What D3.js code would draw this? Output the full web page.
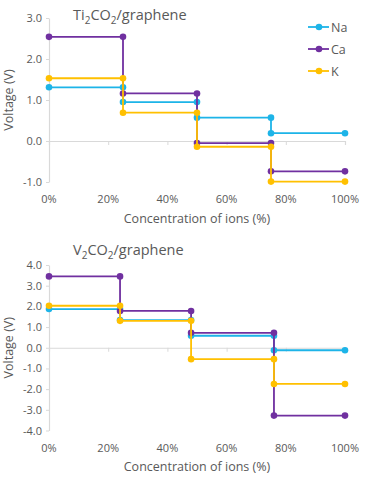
<!DOCTYPE html>
<html><head><meta charset="utf-8">
<script src="https://cdn.jsdelivr.net/npm/d3@7"></script>
<style>body{margin:0;background:#fff}svg{display:block}text{font-family:"Open Sans","Liberation Sans",sans-serif;fill:#595959}</style>
</head><body><svg id="c" width="365" height="477"></svg>
<script>
const series = ["Na", "Ca", "K"];
const colors = ["#1DB4E8", "#7030A0", "#FFC000"];
const xTicks = [0, 20, 40, 60, 80, 100];
const topSteps = [0, 25, 50, 75, 100];
const topNa = [1.31, 0.95, 0.57, 0.19];
const topCa = [2.54, 1.16, -0.05, -0.74];
const topK = [1.53, 0.69, -0.14, -0.99];
const topYTicks = [-1, 0, 1, 2, 3];
const botSteps = [0, 24, 48, 76, 100];
const botNa = [1.87, 1.34, 0.58, -0.12];
const botCa = [3.45, 1.78, 0.72, -3.28];
const botK = [2.03, 1.30, -0.55, -1.75];
const botYTicks = [-4, -3, -2, -1, 0, 1, 2, 3, 4];

const svg = d3.select("#c");

function panel(cfg) {
  const x = d3.scaleLinear().domain([0, 100]).range([49, 345]);
  const y = d3.scaleLinear().domain(cfg.yDomain).range(cfg.yRange);
  const g = svg.append("g");
  const xAxis = g.append("g").attr("transform", `translate(0,${y(0)})`)
    .call(d3.axisBottom(x).tickValues(xTicks).tickSize(4).tickFormat(""));
  xAxis.select(".domain").attr("stroke", "#d9d9d9").attr("stroke-width", 1.2);
  xAxis.selectAll(".tick line").attr("stroke", "#d9d9d9");
  g.append("g").selectAll("text").data(xTicks).join("text")
    .attr("x", d => x(d)).attr("y", cfg.yRange[0] + 21)
    .attr("text-anchor", "middle").attr("font-size", 11).text(d => d + "%");
  const yAxis = g.append("g").attr("transform", `translate(49,0)`)
    .call(d3.axisLeft(y).tickValues(cfg.yTicks).tickSize(3).tickSizeOuter(0).tickFormat(d3.format(".1f")));
  yAxis.select(".domain").attr("stroke", "#d9d9d9").attr("stroke-width", 1.2);
  yAxis.selectAll(".tick line").attr("stroke", "#d9d9d9");
  yAxis.selectAll(".tick text").attr("font-size", 11).attr("fill", "#595959")
    .attr("font-family", '"Open Sans","Liberation Sans",sans-serif').attr("x", -7)
    .text(d => d < 0 ? "-" + d3.format(".1f")(-d) : d3.format(".1f")(d));
  const t = g.append("text").attr("x", 73).attr("y", cfg.titleY).attr("font-size", 14.5).attr("fill", "#404040");
  t.append("tspan").text(cfg.titleA);
  t.append("tspan").attr("font-size", 10).attr("dy", 4).text("2");
  t.append("tspan").attr("dy", -4).text("CO");
  t.append("tspan").attr("font-size", 10).attr("dy", 4).text("2");
  t.append("tspan").attr("dy", -4).text("/graphene");
  g.append("text").attr("x", 197).attr("y", cfg.axisTitleY).attr("text-anchor", "middle")
    .attr("font-size", 12.5).text("Concentration of ions (%)");
  const yc = (cfg.yRange[0] + cfg.yRange[1]) / 2;
  g.append("text").attr("transform", `translate(13,${yc}) rotate(-90)`).attr("text-anchor", "middle")
    .attr("font-size", 12.5).text("Voltage (V)");
  const line = d3.line().x(d => x(d[0])).y(d => y(d[1]));
  cfg.data.forEach((vals, i) => {
    const pts = [];
    vals.forEach((v, j) => { pts.push([cfg.steps[j], v]); pts.push([cfg.steps[j + 1], v]); });
    g.append("path").attr("d", line(pts)).attr("fill", "none").attr("stroke", colors[i]).attr("stroke-width", 1.8);
    g.append("g").selectAll("circle").data(pts).join("circle")
      .attr("cx", d => x(d[0])).attr("cy", d => y(d[1])).attr("r", 3.3).attr("fill", colors[i]);
  });
}

panel({yDomain: [-1, 3], yRange: [182, 18], yTicks: topYTicks, steps: topSteps,
  data: [topNa, topCa, topK], titleA: "Ti", titleY: 20, axisTitleY: 223});
panel({yDomain: [-4, 4], yRange: [430.5, 265], yTicks: botYTicks, steps: botSteps,
  data: [botNa, botCa, botK], titleA: "V", titleY: 255, axisTitleY: 471});

const lg = svg.append("g");
series.forEach((s, i) => {
  const yy = 27 + i * 22;
  lg.append("line").attr("x1", 308).attr("x2", 329).attr("y1", yy).attr("y2", yy).attr("stroke", colors[i]).attr("stroke-width", 1.8);
  lg.append("circle").attr("cx", 319).attr("cy", yy).attr("r", 3.3).attr("fill", colors[i]);
  lg.append("text").attr("x", 331).attr("y", yy + 4.5).attr("font-size", 12.5).attr("fill", "#404040").text(s);
});
</script></body></html>
